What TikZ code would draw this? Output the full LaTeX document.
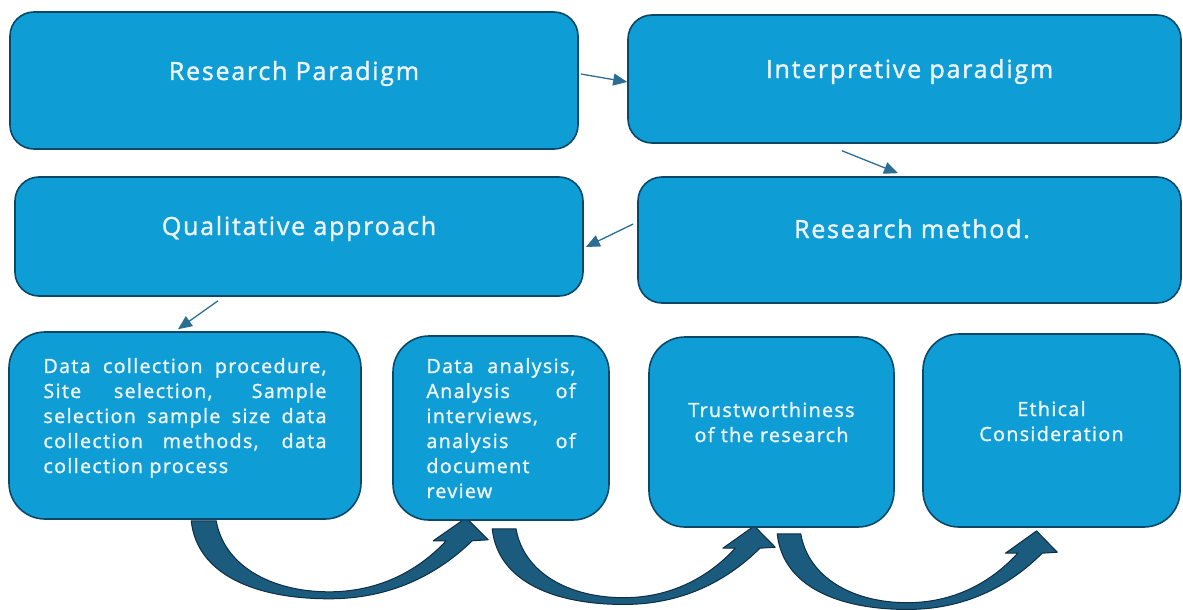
\documentclass[tikz,border=0pt]{standalone}
\usepackage{fontspec}
\setmainfont{Open Sans}[LetterSpace=7, FakeBold=1.5]
\usetikzlibrary{arrows.meta,calc,backgrounds}

\definecolor{boxfill}{HTML}{0F9DD6}
\definecolor{boxline}{HTML}{0B4766}
\definecolor{textcol}{HTML}{EEF4FA}
\definecolor{conncol}{HTML}{2A6F93}
\definecolor{arrowfill}{HTML}{1B5B7D}
\definecolor{arrowline}{HTML}{0D2E44}

\tikzset{
  topbox/.style={draw=boxline, line width=1.6pt, fill=boxfill, rounded corners=24pt,
    text=textcol, inner sep=0pt, font=\fontsize{25}{29}\selectfont},
  lowbox/.style={topbox, rounded corners=36pt, font=\fontsize{19.6}{25}\selectfont},
  conn/.style={draw=conncol, line width=1.3pt, -{Triangle[length=14pt,width=12pt]}},
  bigarrow/.style={fill=arrowfill, draw=arrowline, line width=1pt, line join=round},
  % thick curved band sweeping down and back up into an arrow head
  curvedup/.pic={
    \filldraw[bigarrow] (0,0) .. controls (6,55) and (66,78) .. (138,78)
      .. controls (198,78) and (245,55) .. (281,20)
      -- (297,19) -- (275,-3) -- (242,20) -- (255,20)
      .. controls (225,52) and (185,71) .. (138,71)
      .. controls (80,71) and (33,45) .. (25,0) -- cycle;
  }
}

\begin{document}
\begin{tikzpicture}[x=1pt, y=-1pt]
\useasboundingbox (0,0) rectangle (1183,610);

% upper rows
\node[topbox, minimum width=568pt, minimum height=137pt] (rp) at (294,80.5)
  {\raisebox{0.5pt}[0pt][0pt]{Research Paradigm}};
\node[topbox, minimum width=553pt, minimum height=128pt] (ip) at (904.5,79)
  {\raisebox{1pt}[0pt][0pt]{\hspace*{10pt}Interpretive paradigm}};
\node[topbox, minimum width=568pt, minimum height=119pt] (qa) at (299,236.5)
  {\raisebox{1.5pt}[0pt][0pt]{Qualitative approach}};
\node[topbox, minimum width=543pt, minimum height=126pt] (rm) at (909.5,240)
  {\raisebox{2pt}[0pt][0pt]{\hspace*{5pt}Research method.}};

% bottom row
\node[lowbox, minimum width=352pt, minimum height=187pt] (dc) at (185,425.5)
  {\raisebox{52.5pt}[0pt][0pt]{\parbox[t]{283pt}{%
    \makebox[\linewidth][s]{Data collection procedure,}\\
    \makebox[\linewidth][s]{Site selection, Sample}\\
    \makebox[\linewidth][s]{selection sample size data}\\
    \makebox[\linewidth][s]{collection methods, data}\\
    collection process}}};
\node[lowbox, minimum width=216pt, minimum height=184pt] (da) at (501,428)
  {\raisebox{55pt}[0pt][0pt]{\parbox[t]{149pt}{%
    \makebox[\linewidth][s]{Data analysis,}\\
    \makebox[\linewidth][s]{Analysis of}\\
    interviews,\\
    \makebox[\linewidth][s]{analysis of}\\
    document\\
    review}}};
\node[lowbox, minimum width=245pt, minimum height=190pt] (tw) at (771.5,432)
  {\raisebox{15pt}[0pt][0pt]{\parbox[t]{230pt}{\centering
    Trustworthiness\\of the research}}};
\node[lowbox, minimum width=257pt, minimum height=193pt] (ec) at (1051.5,430.5)
  {\raisebox{14.5pt}[0pt][0pt]{\parbox[t]{240pt}{\centering
    Ethical\\Consideration}}};

% connectors between the upper boxes
\draw[conn] ($(rp.east)+(2,-6.5)$) -- ($(ip.west)+(0,3)$);
\draw[conn] ($(ip.south)+(-62.5,7)$) -- ($(rm.north)+(-11.5,-3)$);
\draw[conn] ($(rm.west)+(-4,-16)$) -- ($(qa.east)+(2,10.5)$);
\draw[conn] ($(qa.south)+(-81,4)$) -- ($(dc.north)+(-7,-2)$);

% curved block arrows under the bottom row, tucked behind the boxes
\begin{scope}[on background layer]
  \pic at ($(dc.south west)+(183,1)$) {curvedup};
  \pic[xscale=0.953, yscale=0.97] at ($(da.south west)+(100,8)$) {curvedup};
  \pic[xscale=0.943, yscale=0.97] at ($(tw.south west)+(129,6)$) {curvedup};
\end{scope}
\end{tikzpicture}
\end{document}
